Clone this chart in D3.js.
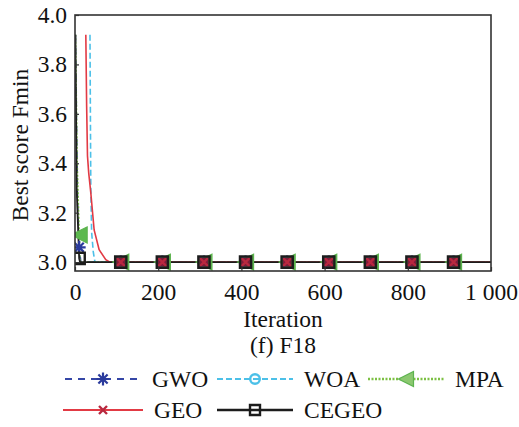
<!DOCTYPE html>
<html><head><meta charset="utf-8">
<script src="https://cdn.jsdelivr.net/npm/d3@7"></script>
<style>body{margin:0;background:#fff}svg{display:block}</style>
</head><body>
<svg id="c" width="519" height="427"></svg>
<script>
// ---- data ----
const seriesNames = ["GWO", "WOA", "MPA", "GEO", "CEGEO"];
const gwoIter = [1, 6, 10, 14, 1000];
const gwoVal  = [3.92, 3.25, 3.06, 3.0, 3.0];
const woaIter = [36, 37, 38, 40, 44, 48, 1000];
const woaVal  = [3.92, 3.6, 3.3, 3.12, 3.04, 3.0, 3.0];
const mpaIter = [1, 5, 10, 12, 1000];
const mpaVal  = [3.92, 3.4, 3.11, 3.0, 3.0];
const geoIter = [26, 28, 30, 33, 38, 46, 58, 74, 84, 1000];
const geoVal  = [3.92, 3.63, 3.43, 3.36, 3.28, 3.13, 3.05, 3.01, 3.0, 3.0];
const cegeoIter = [1, 4, 10, 12, 1000];
const cegeoVal  = [3.92, 3.3, 3.015, 3.0, 3.0];
const markerIter = [10, 110, 210, 310, 410, 510, 610, 710, 810, 910];
const gwoMarkVal   = [3.06, 3, 3, 3, 3, 3, 3, 3, 3, 3];
const woaMarkVal   = [null, 3, 3, 3, 3, 3, 3, 3, 3, 3];
const mpaMarkVal   = [3.11, 3, 3, 3, 3, 3, 3, 3, 3, 3];
const geoMarkVal   = [null, 3, 3, 3, 3, 3, 3, 3, 3, 3];
const cegeoMarkVal = [3.015, 3, 3, 3, 3, 3, 3, 3, 3, 3];
const xTicks = [0, 200, 400, 600, 800, 1000];
const xTickLabels = ["0", "200", "400", "600", "800", "1 000"];
const yTicks = [3.0, 3.2, 3.4, 3.6, 3.8, 4.0];
const xTitle = "Iteration";
const yTitle = "Best score Fmin";
const caption = "(f) F18";

const FONT = '"Liberation Serif", "Times New Roman", serif';
const FS = 23.5;

// ---- styles ----
const style = {
  GWO:   {color: "#3546a6", mcolor: "#2a3a9c", dash: "7,6", marker: "star", w: 1.6},
  WOA:   {color: "#4cc0e8", mcolor: "#4cc0e8", dash: "6,3", marker: "circle", w: 1.6},
  MPA:   {color: "#7cc043", mcolor: "#5db34f", dash: "2,1.5", marker: "triL", w: 1.8},
  GEO:   {color: "#e23a44", mcolor: "#b8283f", dash: null, marker: "x", w: 1.6},
  CEGEO: {color: "#1c1c1c", mcolor: "#1c1c1c", dash: null, marker: "square", w: 1.8}
};
const data = {
  GWO: [gwoIter, gwoVal, gwoMarkVal],
  WOA: [woaIter, woaVal, woaMarkVal],
  MPA: [mpaIter, mpaVal, mpaMarkVal],
  GEO: [geoIter, geoVal, geoMarkVal],
  CEGEO: [cegeoIter, cegeoVal, cegeoMarkVal]
};

const svg = d3.select("#c");
const L = 75, R = 491, T = 15, B = 271;
const x = d3.scaleLinear().domain([0, 1000]).range([L, R]);
const y = d3.scaleLinear().domain([2.964, 4.0]).range([B, T]);

function markerPath(type, r) {
  switch (type) {
    case "star": {
      let p = "";
      for (let k = 0; k < 4; k++) {
        const a = k * Math.PI / 4, dx = r * Math.cos(a), dy = r * Math.sin(a);
        p += `M${-dx},${-dy}L${dx},${dy}`;
      }
      return p;
    }
    case "circle": return `M${r},0A${r},${r} 0 1,1 ${-r},0A${r},${r} 0 1,1 ${r},0Z`;
    case "triL": return `M${-r},0L${r},${-r}L${r},${r}Z`;
    case "x": return `M${-r},${-r}L${r},${r}M${-r},${r}L${r},${-r}`;
    case "square": return `M${-r},${-r}H${r}V${r}H${-r}Z`;
  }
}
function drawMarker(g, type, cx, cy, st, legend) {
  const p = g.append("path").attr("transform", `translate(${cx},${cy})`);
  if (type === "star") p.attr("d", markerPath("star", 6.5)).attr("stroke", st.mcolor).attr("stroke-width", 2.2).attr("fill", "none");
  else if (type === "circle") p.attr("d", markerPath("circle", 4.8)).attr("stroke", st.mcolor).attr("stroke-width", 2.4).attr("fill", "none");
  else if (type === "triL") p.attr("d", markerPath("triL", legend ? 7.5 : 8)).attr("stroke", st.mcolor).attr("stroke-width", 1.2).attr("fill", legend ? "#8cc870" : "#5cb84e");
  else if (type === "x") p.attr("d", markerPath("x", 4)).attr("stroke", st.mcolor).attr("stroke-width", legend ? 2.4 : 2.2).attr("fill", "none");
  else if (type === "square") p.attr("d", markerPath("square", legend ? 5 : 5.6)).attr("stroke", st.mcolor).attr("stroke-width", 2.4).attr("fill", "none");
}

svg.append("clipPath").attr("id", "clip").append("rect").attr("x", L).attr("y", T).attr("width", R - L).attr("height", B - T);
const plot = svg.append("g").attr("clip-path", "url(#clip)");

const line = d3.line().x(d => x(d[0])).y(d => y(d[1]));
seriesNames.forEach(name => {
  const [it, vals] = data[name];
  const st = style[name];
  const pts = it.map((v, i) => [v, vals[i]]);
  plot.append("path").attr("d", line(pts)).attr("fill", "none")
    .attr("stroke", st.color).attr("stroke-width", st.w)
    .attr("stroke-dasharray", st.dash);
});
seriesNames.forEach(name => {
  const st = style[name];
  const mv = data[name][2];
  markerIter.forEach((it, i) => {
    if (mv[i] == null) return;
    if (name === "GEO") {
      plot.append("rect").attr("x", x(it) - 4.6).attr("y", y(mv[i]) - 4.6).attr("width", 9.2).attr("height", 9.2).attr("fill", "#7c1c3a");
    }
    drawMarker(plot, st.marker, x(it), y(mv[i]), st, false);
  });
});

// frame
svg.append("rect").attr("x", L).attr("y", T).attr("width", R - L).attr("height", B - T)
  .attr("fill", "none").attr("stroke", "#333").attr("stroke-width", 1.6);

// axes
const xAxis = svg.append("g").attr("transform", `translate(0,${B})`)
  .call(d3.axisBottom(x).tickValues(xTicks).tickFormat((d, i) => xTickLabels[i]).tickSize(-4).tickPadding(12));
const yAxis = svg.append("g").attr("transform", `translate(${L},0)`)
  .call(d3.axisLeft(y).tickValues(yTicks).tickFormat(d3.format(".1f")).tickSize(-4).tickPadding(8));
[xAxis, yAxis].forEach(a => {
  a.attr("font-family", null).attr("font-size", null);
  a.select(".domain").remove();
  a.selectAll(".tick line").attr("stroke", "#333").attr("stroke-width", 1.2);
  a.selectAll(".tick text").attr("font-family", FONT).attr("font-size", FS).attr("fill", "#111");
});

function txt(g) { return g.append("text").attr("font-family", FONT).attr("font-size", FS).attr("fill", "#111"); }
txt(svg).attr("x", 283).attr("y", 327).attr("text-anchor", "middle").text(xTitle);
txt(svg).attr("x", 283).attr("y", 353).attr("text-anchor", "middle").text(caption);
txt(svg).attr("transform", `translate(28,145) rotate(-90)`).attr("text-anchor", "middle").text(yTitle);

// legend
const legendCols = [65, 217, 368];
const legendRows = [379, 410];
const legendLayout = [[0, 0], [1, 0], [2, 0], [0, 1], [1, 1]];
const lg = svg.append("g");
seriesNames.forEach((name, i) => {
  const st = style[name];
  const [c, r] = legendLayout[i];
  const x0 = legendCols[c] - (r === 1 && c === 0 ? 2 : 0), yy = legendRows[r], len = r === 1 && c === 0 ? 80 : 76;
  lg.append("line").attr("x1", x0).attr("x2", x0 + len).attr("y1", yy).attr("y2", yy)
    .attr("stroke", st.color).attr("stroke-width", st.w + 0.6).attr("stroke-dasharray", st.dash);
  drawMarker(lg, st.marker, x0 + len / 2, yy, st, true);
  txt(lg).attr("x", x0 + len + 11).attr("y", yy + 8).text(name);
});
</script>
</body></html>
